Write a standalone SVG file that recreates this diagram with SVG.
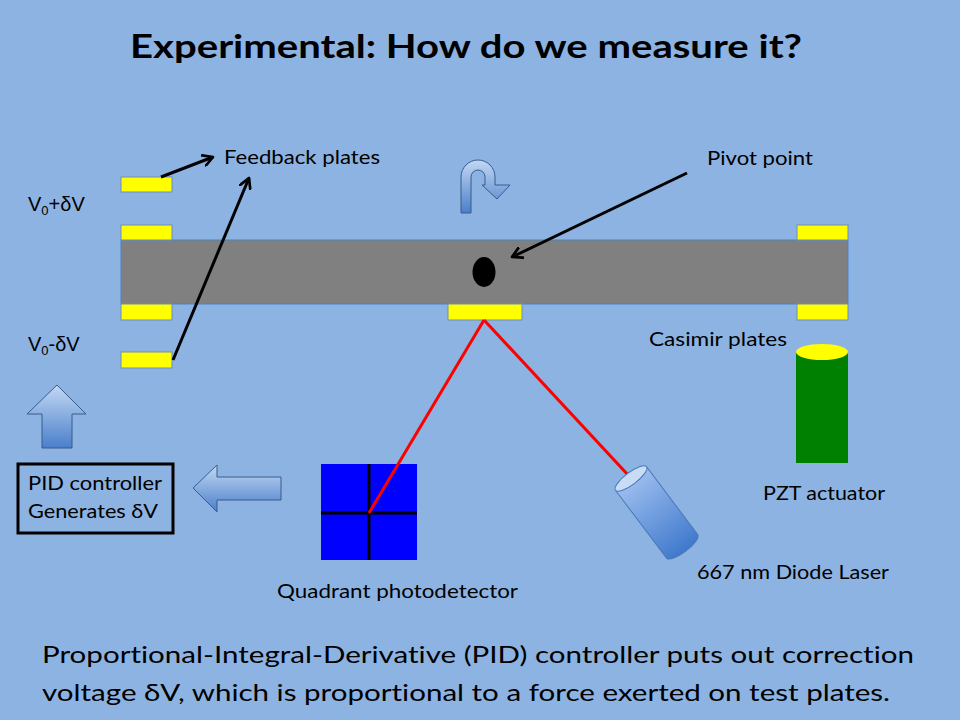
<svg xmlns="http://www.w3.org/2000/svg" width="960" height="720" viewBox="0 0 960 720">
<defs>
<style>
.t{font-family:Lato,"Liberation Sans",Arial,sans-serif;fill:#000;font-variant-ligatures:none;font-feature-settings:"liga" 0;}
.a{font-family:"Liberation Sans",Arial,sans-serif;fill:#000;}
.plate{fill:#FFFF00;stroke:#6F8FAF;stroke-width:1;}
.ptr{stroke:#000;stroke-width:3;fill:none;marker-end:url(#open);}
.beam{stroke:#FF0000;stroke-width:3;fill:none;}
.blk{fill:url(#gradV);stroke:#385D8A;stroke-width:1;}
</style>
<marker id="open" viewBox="0 0 12 12" refX="10" refY="6" markerWidth="13" markerHeight="13" markerUnits="userSpaceOnUse" orient="auto">
<path d="M1,1 L10,6 L1,11" fill="none" stroke="#000" stroke-width="2.5" stroke-linecap="round" stroke-linejoin="round"/>
</marker>
<linearGradient id="gradV" x1="0" y1="0" x2="0" y2="1">
<stop offset="0" stop-color="#C3D8F4"/>
<stop offset="1" stop-color="#4A7FCA"/>
</linearGradient>
<linearGradient id="gradL" x1="0" y1="0" x2="0" y2="1">
<stop offset="0" stop-color="#9DBEEF"/>
<stop offset="1" stop-color="#3F79CC"/>
</linearGradient>
</defs>
<rect x="0" y="0" width="960" height="720" fill="#8DB3E2"/>

<g id="title"><text class="t" x="130" y="58" font-size="32" font-weight="bold" textLength="672" lengthAdjust="spacingAndGlyphs">Experimental: How do we measure it?</text></g>

<g id="beam-bar"><rect x="121" y="240" width="727" height="64" fill="#808080" stroke="#4F81BD" stroke-width="1"/></g>

<g id="feedback-plate-top"><rect class="plate" x="121" y="177" width="51" height="15"/></g>
<g id="plate-left-upper"><rect class="plate" x="121" y="225" width="51" height="15"/></g>
<g id="plate-left-lower"><rect class="plate" x="121" y="304" width="51" height="16"/></g>
<g id="feedback-plate-bottom"><rect class="plate" x="121" y="352" width="51" height="16"/></g>
<g id="plate-middle"><rect class="plate" x="448" y="304" width="74" height="16"/></g>
<g id="plate-right-upper"><rect class="plate" x="797" y="225" width="51" height="15"/></g>
<g id="plate-right-lower"><rect class="plate" x="797" y="304" width="51" height="16"/></g>

<g id="pivot"><ellipse cx="484" cy="272" rx="11.5" ry="15" fill="#000"/></g>

<g id="rotation-arrow"><path class="blk" d="M461,213 L461,177 A17,17 0 0 1 495,177 L495,185 L510,185 L497,199 L482,185 L485,185 L485,177 A7,7 0 0 0 471,177 L471,213 Z"/></g>

<g id="label-v-plus"><text class="a" x="28" y="211" font-size="20">V<tspan font-size="13" dy="4">0</tspan><tspan dy="-4">+δV</tspan></text></g>
<g id="label-v-minus"><text class="a" x="28" y="351" font-size="20">V<tspan font-size="13" dy="4">0</tspan><tspan dy="-4">-δV</tspan></text></g>

<g id="label-feedback"><text class="t" x="224" y="164" font-size="19" textLength="156" lengthAdjust="spacingAndGlyphs">Feedback plates</text></g>
<g id="label-pivot"><text class="t" x="707" y="165" font-size="19" textLength="106" lengthAdjust="spacingAndGlyphs">Pivot point</text></g>
<g id="label-casimir"><text class="t" x="649" y="346" font-size="19" textLength="138" lengthAdjust="spacingAndGlyphs">Casimir plates</text></g>

<g id="quadrant-photodetector">
<rect x="321" y="464" width="96" height="96" fill="#0000FF"/>
<line x1="369" y1="464" x2="369" y2="560" stroke="#000" stroke-width="3"/>
<line x1="321" y1="513" x2="417" y2="513" stroke="#000" stroke-width="3"/>
<text class="t" x="277" y="598" font-size="19" textLength="241" lengthAdjust="spacingAndGlyphs">Quadrant photodetector</text>
</g>

<g id="connectors">
<line class="ptr" x1="161" y1="177" x2="213" y2="157"/>
<line class="ptr" x1="173" y1="360" x2="249" y2="178"/>
<line class="ptr" x1="687" y1="173" x2="512" y2="257"/>
<line class="beam" x1="484" y1="320" x2="369" y2="513"/>
<line class="beam" x1="484" y1="320" x2="629" y2="476"/>
</g>

<g id="diode-laser">
<g transform="translate(631,478.5) rotate(-37)">
<path d="M-19.5,0 L-19.5,85 A19.5,6 0 0 0 19.5,85 L19.5,0 Z" fill="url(#gradL)" stroke="#4A78B8" stroke-width="1"/>
<ellipse cx="0" cy="0" rx="19.5" ry="6" fill="#C8DCF6" stroke="#4A78B8" stroke-width="1"/>
</g>
<text class="t" x="697" y="579" font-size="19" textLength="192" lengthAdjust="spacingAndGlyphs">667 nm Diode Laser</text>
</g>

<g id="pzt-actuator">
<rect x="796" y="352" width="52" height="111" fill="#008000"/>
<ellipse cx="822" cy="352" rx="26" ry="8" fill="#FFFF00"/>
<text class="t" x="763" y="500" font-size="19" textLength="122" lengthAdjust="spacingAndGlyphs">PZT actuator</text>
</g>

<g id="pid-controller">
<rect x="18" y="464" width="155" height="69" fill="none" stroke="#000" stroke-width="3"/>
<text class="t" x="28" y="490" font-size="19" textLength="134" lengthAdjust="spacingAndGlyphs">PID controller</text>
<text class="t" x="28" y="518" font-size="19" textLength="130" lengthAdjust="spacingAndGlyphs">Generates δV</text>
</g>

<g id="up-arrow"><path class="blk" d="M57,385 L86,414 L72,414 L72,448 L42,448 L42,414 L27,414 Z"/></g>
<g id="left-arrow"><path class="blk" d="M193,488 L217,465 L217,477 L281,477 L281,500 L217,500 L217,512 Z"/></g>

<g id="caption">
<text class="t" x="42" y="663" font-size="24" textLength="872" lengthAdjust="spacingAndGlyphs">Proportional-Integral-Derivative (PID) controller puts out correction</text>
<text class="t" x="42" y="701" font-size="24" textLength="848" lengthAdjust="spacingAndGlyphs">voltage δV, which is proportional to a force exerted on test plates.</text>
</g>
</svg>
